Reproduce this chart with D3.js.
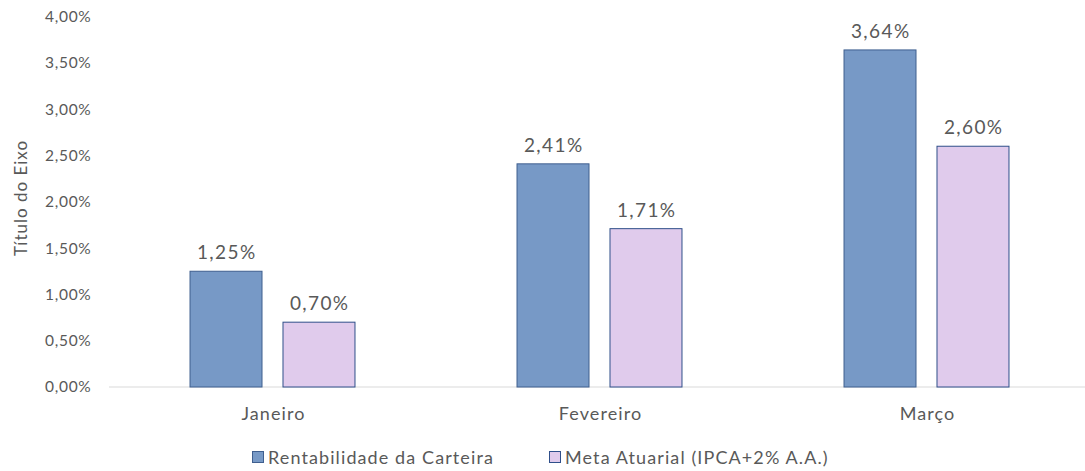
<!DOCTYPE html>
<html>
<head>
<meta charset="utf-8">
<script src="https://cdn.jsdelivr.net/npm/d3@7"></script>
<style>
  html, body { margin: 0; padding: 0; background: #fff; }
  svg { display: block; }
  text { font-family: Lato, "Open Sans", sans-serif; fill: #595959; }
</style>
</head>
<body>
<svg id="chart" width="1085" height="471"></svg>
<script>
// Monthly portfolio return vs. actuarial target
const months = ["Janeiro", "Fevereiro", "Março"];
const seriesNames = ["Rentabilidade da Carteira", "Meta Atuarial (IPCA+2% A.A.)"];
const rentabilidade = [1.25, 2.41, 3.64];
const metaAtuarial = [0.70, 1.71, 2.60];
const yTicks = [0, 0.5, 1.0, 1.5, 2.0, 2.5, 3.0, 3.5, 4.0];
const axisTitle = "Título do Eixo";

const fills = ["#7799c6", "#e0cbec"];
const strokes = ["#3f5f8f", "#2f4f8a"];

const svg = d3.select("#chart");
const W = 1085, H = 471;
const FONT = "Lato, 'Open Sans', sans-serif";

const x = d3.scaleBand().domain(months).range([109, 1090]).paddingInner(0).paddingOuter(0);
const inner = d3.scaleBand().domain([0, 1]).range([0, x.bandwidth()]).paddingInner(0.215).paddingOuter(0.866);
const y = d3.scaleLinear().domain([0, 4]).range([387, 16.6]);

const fmt = v => d3.format(".2f")(v).replace(".", ",") + "%";

// Y axis labels (no axis line)
const yAxis = d3.axisLeft(y).tickValues(yTicks).tickFormat(fmt).tickSize(0).tickPadding(0);
const gy = svg.append("g").attr("transform", "translate(91.5,0)").call(yAxis);
gy.select(".domain").remove();
gy.selectAll("text").style("font-size", "15.5px").style("letter-spacing", "0.7px")
  .attr("fill", "#595959").style("font-family", FONT);

// Baseline
svg.append("line")
  .attr("x1", 109).attr("x2", W)
  .attr("y1", y(0)).attr("y2", y(0))
  .attr("stroke", "#d9d9d9").attr("stroke-width", 1.2);

// Category axis labels
const xAxis = d3.axisBottom(x).tickSize(0).tickPadding(0);
const gx = svg.append("g").attr("transform", "translate(1,407)").call(xAxis);
gx.select(".domain").remove();
gx.selectAll("text").style("font-size", "18px").style("letter-spacing", "1.1px")
  .attr("fill", "#595959").style("font-family", FONT);

// Axis title
svg.append("text")
  .attr("transform", "translate(27,198) rotate(-90)")
  .attr("text-anchor", "middle")
  .style("font-size", "17px")
  .style("letter-spacing", "1px")
  .text(axisTitle);

// Bars with value labels
const series = [rentabilidade, metaAtuarial];
series.forEach((vals, s) => {
  const g = svg.append("g");
  g.selectAll("rect").data(vals).join("rect")
    .attr("x", (d, i) => x(months[i]) + inner(s) + 0.5)
    .attr("width", inner.bandwidth() - 1)
    .attr("y", d => y(d))
    .attr("height", d => y(0) - y(d))
    .attr("fill", fills[s])
    .attr("stroke", strokes[s])
    .attr("stroke-width", 1);
  g.selectAll("text").data(vals).join("text")
    .attr("x", (d, i) => x(months[i]) + inner(s) + inner.bandwidth() / 2 + 0.7)
    .attr("y", d => y(d) - 12)
    .attr("text-anchor", "middle")
    .style("font-size", "19px")
    .style("letter-spacing", "1.4px")
    .text(d => fmt(d));
});

// Legend
const legendItems = [
  { x: 252, label: seriesNames[0] },
  { x: 549, label: seriesNames[1] }
];
legendItems.forEach((it, s) => {
  svg.append("rect")
    .attr("x", it.x + 0.5).attr("y", 451.5)
    .attr("width", 11).attr("height", 11)
    .attr("fill", fills[s]).attr("stroke", strokes[s]).attr("stroke-width", 1);
  svg.append("text")
    .attr("x", it.x + 16).attr("y", 464)
    .style("font-size", "18px")
    .style("letter-spacing", "1.1px")
    .text(it.label);
});
</script>
</body>
</html>
